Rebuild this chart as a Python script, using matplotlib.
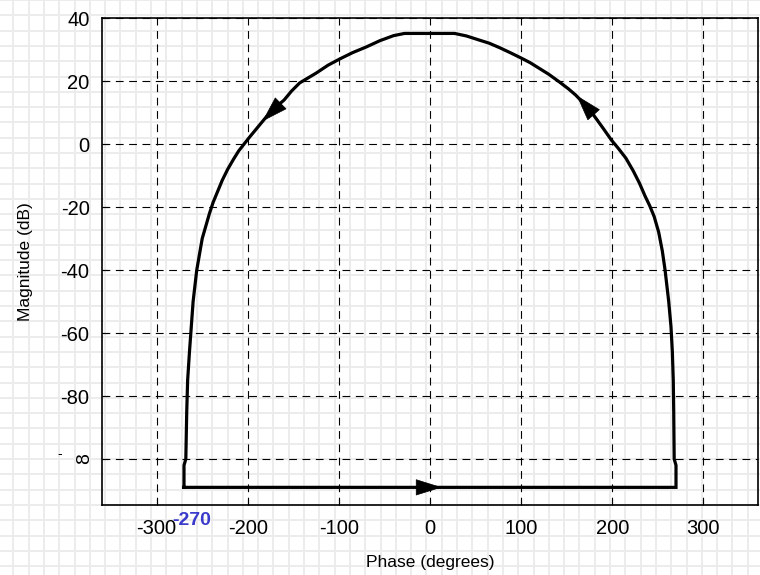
import numpy as np
import matplotlib
matplotlib.use('Agg')
import matplotlib.pyplot as plt

plt.rcParams['font.family'] = ['Liberation Sans', 'DejaVu Sans']
plt.rcParams['axes.unicode_minus'] = False

# Nichols-style contour, traced counterclockwise from bottom-left
right_phase = [268, 267.5, 267, 266, 264.5, 262, 260, 258, 255, 251, 246, 241, 236,
               230, 223, 215, 207, 199, 190, 180, 170, 160, 152, 142, 130, 120,
               110, 100, 88, 77, 65, 54, 40, 27]
right_mag = [-100, -85, -75, -66, -58, -50, -45, -40, -34, -28, -23, -19.5, -16.5,
             -12.5, -8.5, -4.5, -1.5, 1.3, 5, 9, 12.5, 15.5, 17.5, 19.7, 22.2, 24,
             25.8, 27.3, 29, 30.5, 32, 33, 34.3, 35.1]
left_phase = [-28, -40, -55, -70, -85, -99, -112, -125, -143, -152, -160, -170, -180,
              -190, -198, -204, -210, -216, -222, -228, -233, -238, -242, -246, -250,
              -253, -256, -258, -260, -262, -264, -266, -267, -268]
left_mag = [35.1, 34.4, 32.8, 30.8, 29, 27, 25, 22.5, 19.4, 16.8, 14, 11.5, 8.5,
            5, 2.2, 0, -2.2, -5, -8, -11.5, -15, -18.5, -22, -26, -30,
            -35, -40, -45, -50, -58, -66, -75, -85, -100]

phase = [-270, 270, 270] + right_phase + left_phase + [-270, -270]
magnitude = [-109, -109, -102] + right_mag + left_mag + [-102, -109]

# arrow (tail, tip) pairs along the contour
arrows = [((-20, -109), (13, -109)),
          ((-160, 14), (-184, 7.2)),
          ((185, 7.5), (161, 15.4))]

xticks = [-300, -200, -100, 0, 100, 200, 300]
yticks = [-100, -80, -60, -40, -20, 0, 20, 40]
ytick_labels = ['', '-80', '-60', '-40', '-20', '0', '20', '40']

fig = plt.figure(figsize=(7.6, 5.75), dpi=100)

# graph paper background
bg = fig.add_axes([0, 0, 1, 1], zorder=-10)
bg.set_xlim(0, 760)
bg.set_ylim(575, 0)
bg.axis('off')
bg.vlines(np.arange(13.3, 760, 15.3), 0, 575, color='#ebebeb', lw=1.3)
bg.hlines(np.arange(0, 575, 15.3), 0, 760, color='#ebebeb', lw=1.3)

ax = fig.add_axes([102 / 760, 70 / 575, 656 / 760, 487 / 575])
ax.set_facecolor('none')
ax.plot(phase, magnitude, color='k', lw=2.3, solid_joinstyle='miter')
for tail, tip in arrows:
    ax.annotate('', xy=tip, xytext=tail,
                arrowprops=dict(arrowstyle='-|>,head_length=0.8,head_width=0.25',
                                mutation_scale=22, color='k', lw=0.5,
                                shrinkA=0, shrinkB=0))

ax.set_xlim(-360, 360)
ax.set_ylim(-114.6, 40)
ax.set_xticks(xticks)
ax.set_yticks(yticks)
ax.set_yticklabels(ytick_labels)
ax.tick_params(direction='in', length=4, labelsize=14.5, colors='k')
ax.tick_params(axis='x', pad=10)
ax.tick_params(axis='y', pad=9)
ax.grid(True, color='k', ls=(0, (7, 5)), lw=0.8)
for s in ax.spines.values():
    s.set_linewidth(1.2)

# -inf label made of a minus and a sideways 8
ax.text(-0.026, -100, '8', transform=ax.get_yaxis_transform(), rotation=90,
        fontsize=14, ha='center', va='center')
ax.text(-0.065, -98.5, '-', transform=ax.get_yaxis_transform(),
        fontsize=10, ha='center', va='center')
ax.text(-262, -0.031, '-270', transform=ax.get_xaxis_transform(), color='#3a3acc',
        fontsize=14, fontweight='bold', ha='center', va='center')

ax.set_xlabel('Phase (degrees)', fontsize=12.5, labelpad=12)
ax.set_ylabel('Magnitude (dB)', fontsize=12.5, labelpad=20)

fig.savefig('out.png', dpi=100)
